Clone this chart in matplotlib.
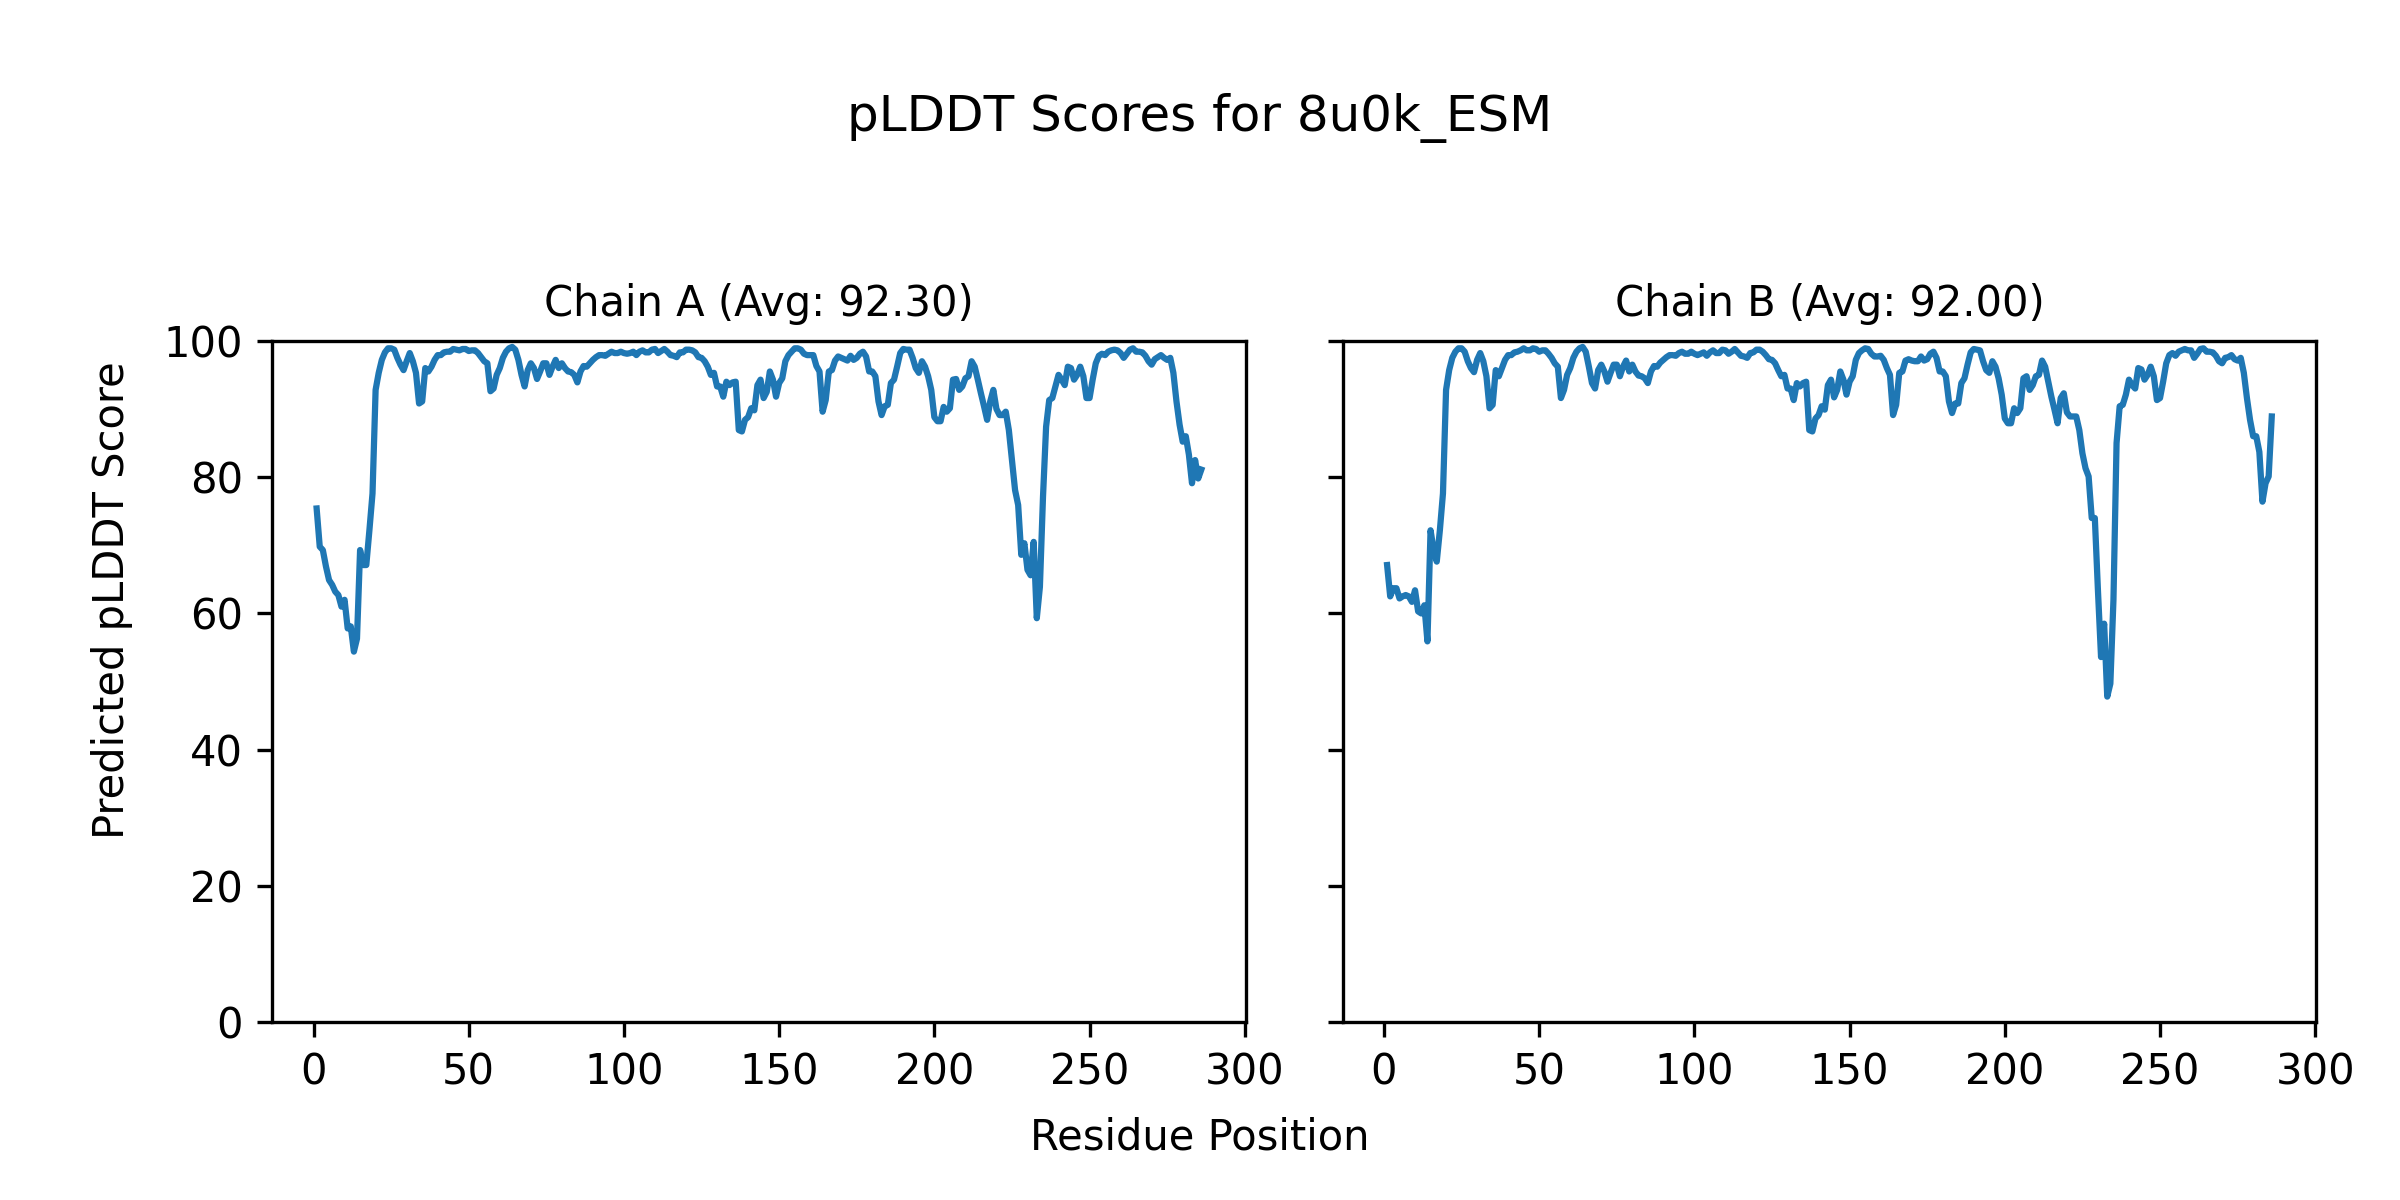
import numpy as np
import matplotlib
matplotlib.use("Agg")
import matplotlib.pyplot as plt

# pLDDT values read per residue (1..286)
chain_a_plddt = [
    75.4, 69.8, 69.3, 66.9, 64.9, 64.2, 63.2, 62.7, 61.0, 62.0,
    57.8, 58.1, 54.4, 56.3, 69.3, 67.1, 67.1, 72.2, 77.6, 92.8,
    95.3, 97.2, 98.3, 98.9, 98.9, 98.7, 97.5, 96.5, 95.7, 97.0,
    98.2, 97.0, 95.3, 90.8, 91.1, 96.0, 95.5, 96.2, 97.2, 97.9,
    97.9, 98.3, 98.4, 98.4, 98.8, 98.7, 98.6, 98.8, 98.8, 98.5,
    98.6, 98.6, 98.2, 97.6, 97.0, 96.7, 92.6, 93.0, 95.0, 96.0,
    97.5, 98.4, 98.9, 99.1, 98.7, 97.2, 95.0, 93.3, 95.7, 96.7,
    96.0, 94.4, 95.5, 96.7, 96.7, 95.0, 96.2, 97.2, 96.0, 96.7,
    96.0, 95.5, 95.4, 95.0, 93.9, 95.5, 96.3, 96.2, 96.7, 97.2,
    97.6, 97.9, 97.9, 97.8, 98.1, 98.4, 98.2, 98.2, 98.4, 98.2,
    98.1, 98.2, 98.4, 97.9, 98.4, 98.6, 98.3, 98.3, 98.7, 98.8,
    98.2, 98.5, 98.8, 98.4, 97.9, 97.8, 97.6, 98.3, 98.3, 98.7,
    98.7, 98.6, 98.3, 97.6, 97.5, 97.0, 96.2, 95.0, 95.3, 93.3,
    93.3, 91.8, 94.0, 93.5, 93.9, 94.0, 86.9, 86.7, 88.4, 88.8,
    90.1, 89.8, 93.5, 94.3, 91.6, 92.5, 95.5, 94.3, 91.8, 93.8,
    94.5, 97.0, 97.9, 98.4, 98.9, 98.9, 98.7, 98.1, 97.9, 97.9,
    97.9, 96.3, 95.5, 89.6, 91.3, 95.5, 95.7, 97.1, 97.7, 97.5,
    97.3, 97.1, 97.8, 97.2, 97.5, 98.1, 98.4, 97.7, 95.5, 95.5,
    94.8, 91.1, 89.1, 90.4, 90.6, 93.8, 94.3, 96.2, 98.2, 98.8,
    98.7, 98.7, 97.5, 96.0, 95.3, 97.0, 96.2, 94.8, 92.8, 88.8,
    88.2, 88.2, 90.3, 89.6, 90.1, 94.3, 94.4, 92.8, 93.3, 94.5,
    94.8, 97.0, 96.2, 94.3, 92.3, 90.4, 88.4, 91.1, 92.8, 90.0,
    89.1, 89.1, 89.6, 86.9, 82.5, 78.1, 75.9, 68.6, 70.3, 66.4,
    65.6, 70.5, 59.3, 63.9, 77.1, 87.4, 91.3, 91.6, 93.3, 95.0,
    94.3, 93.5, 96.2, 96.0, 94.3, 95.0, 96.2, 94.8, 91.6, 91.6,
    94.3, 96.7, 97.8, 98.1, 97.9, 98.4, 98.6, 98.7, 98.6, 98.2,
    97.5, 98.1, 98.7, 98.9, 98.4, 98.4, 98.3, 97.8, 97.0, 96.5,
    97.3, 97.6, 97.9, 97.5, 97.2, 97.5, 95.3, 91.1, 87.7, 85.2,
    86.0, 83.3, 79.1, 82.5, 79.8, 81.1,
]

chain_b_plddt = [
    67.1, 62.5, 63.7, 63.7, 62.2, 62.5, 62.7, 62.5, 61.7, 63.4,
    60.3, 60.0, 61.2, 55.9, 72.2, 69.3, 67.6, 72.2, 77.6, 92.8,
    95.7, 97.5, 98.4, 98.9, 98.9, 98.4, 97.0, 96.0, 95.4, 97.2,
    98.2, 97.0, 94.8, 90.1, 90.6, 95.7, 94.8, 96.0, 97.2, 97.9,
    97.9, 98.3, 98.4, 98.6, 98.9, 98.6, 98.6, 98.9, 98.8, 98.4,
    98.6, 98.6, 98.1, 97.5, 96.7, 96.2, 91.6, 92.8, 95.0, 96.0,
    97.5, 98.4, 98.9, 99.1, 98.4, 96.2, 93.8, 93.0, 95.7, 96.5,
    95.5, 94.0, 95.3, 96.5, 96.5, 94.8, 96.2, 97.1, 95.5, 96.5,
    95.5, 94.9, 94.8, 94.5, 93.8, 95.5, 96.3, 96.2, 96.8, 97.2,
    97.6, 97.9, 97.9, 97.8, 98.2, 98.4, 98.1, 98.1, 98.4, 98.1,
    97.9, 98.1, 98.3, 97.8, 98.3, 98.6, 98.2, 98.2, 98.7, 98.6,
    98.1, 98.4, 98.8, 98.3, 97.8, 97.7, 97.5, 98.2, 98.3, 98.7,
    98.7, 98.4, 97.9, 97.3, 97.2, 96.7, 95.7, 94.8, 95.0, 93.0,
    93.0, 91.3, 93.8, 93.3, 93.8, 94.0, 86.9, 86.7, 88.6, 89.1,
    90.4, 89.9, 93.5, 94.3, 91.7, 92.8, 95.5, 94.3, 92.1, 94.0,
    94.8, 97.2, 98.2, 98.6, 98.9, 98.8, 98.1, 97.7, 97.7, 97.8,
    97.2, 96.0, 95.0, 89.1, 90.6, 95.3, 95.5, 97.1, 97.3, 97.1,
    97.0, 97.0, 97.7, 97.1, 97.3, 98.1, 98.4, 97.5, 95.5, 95.5,
    94.8, 91.1, 89.4, 90.8, 90.8, 93.8, 94.5, 96.5, 98.3, 98.8,
    98.7, 98.6, 97.0, 95.7, 95.3, 97.0, 96.2, 94.5, 92.1, 88.6,
    87.9, 87.9, 90.1, 89.4, 90.1, 94.5, 94.8, 92.8, 93.5, 94.8,
    95.0, 97.1, 96.2, 94.0, 91.8, 89.9, 87.9, 91.6, 92.3, 89.5,
    88.9, 88.9, 88.9, 86.9, 83.5, 81.3, 80.1, 74.0, 74.0, 63.4,
    53.6, 58.5, 47.8, 49.7, 62.0, 85.0, 90.4, 90.6, 92.1, 94.3,
    93.5, 93.0, 96.0, 95.8, 94.3, 95.0, 96.2, 94.8, 91.3, 91.6,
    94.0, 96.7, 97.9, 98.2, 97.8, 98.4, 98.6, 98.8, 98.6, 98.6,
    97.5, 98.1, 98.8, 98.9, 98.4, 98.4, 98.3, 97.8, 97.0, 96.7,
    97.5, 97.6, 97.9, 97.3, 97.1, 97.5, 95.3, 91.6, 88.4, 86.0,
    86.0, 83.7, 76.4, 79.1, 80.1, 88.9,
]

chain_names = ["A", "B"]
chain_avgs = [92.30, 92.00]
model_name = "8u0k_ESM"

chains = [chain_a_plddt, chain_b_plddt]

fig, axes = plt.subplots(1, 2, figsize=(8, 4), dpi=300, sharey=True)
fig.subplots_adjust(left=0.1135, right=0.965, bottom=0.148, top=0.716, wspace=0.10)

for ax, name, avg, scores in zip(axes, chain_names, chain_avgs, chains):
    residues = np.arange(1, len(scores) + 1)
    ax.plot(residues, scores, color="#1f77b4", linewidth=1.5)
    ax.set_title(f"Chain {name} (Avg: {avg:.2f})", fontsize=10)
    ax.set_ylim(0, 100)

fig.suptitle(f"pLDDT Scores for {model_name}", fontsize=12, y=0.902, va="center")
fig.text(0.5, 0.052, "Residue Position", ha="center", va="center", fontsize=10)
fig.text(0.0466, 0.5, "Predicted pLDDT Score", ha="center", va="center",
         rotation=90, fontsize=10)

plt.savefig("out.png", dpi=300)
